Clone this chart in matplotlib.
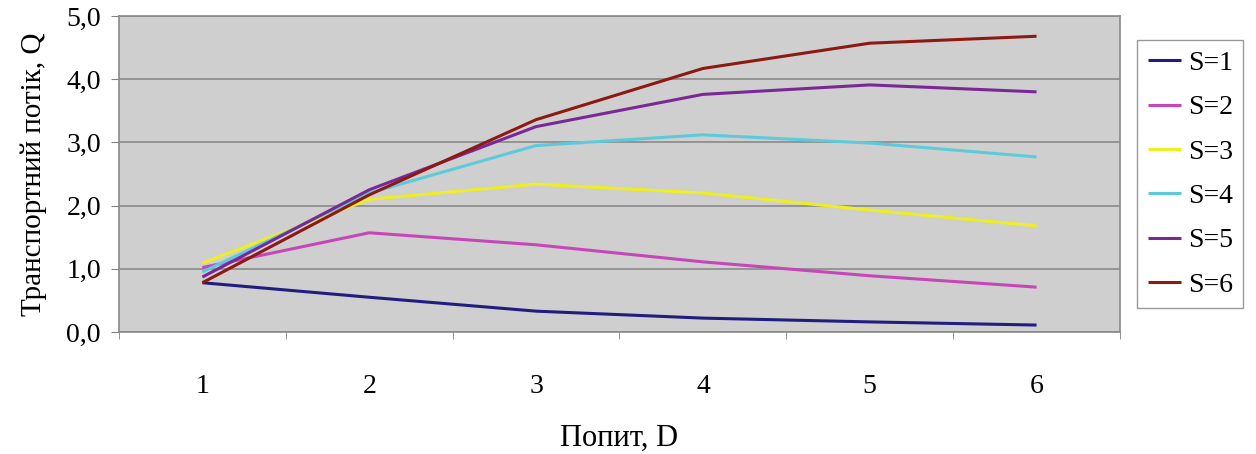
import numpy as np
import matplotlib.pyplot as plt
from matplotlib.ticker import FixedLocator, FuncFormatter

plt.rcParams['font.family'] = ['Liberation Serif', 'DejaVu Serif']

# Demand values (categories)
demand = [1, 2, 3, 4, 5, 6]
series_labels = ["S=1", "S=2", "S=3", "S=4", "S=5", "S=6"]

# Transport flow Q per supply level S
s1 = [0.78, 0.55, 0.33, 0.22, 0.16, 0.11]
s2 = [1.02, 1.57, 1.38, 1.11, 0.89, 0.71]
s3 = [1.09, 2.10, 2.34, 2.20, 1.93, 1.68]
s4 = [0.95, 2.20, 2.95, 3.12, 2.99, 2.77]
s5 = [0.87, 2.25, 3.25, 3.76, 3.91, 3.80]
s6 = [0.78, 2.17, 3.36, 4.17, 4.57, 4.68]
series = [s1, s2, s3, s4, s5, s6]

colors = ['#221C7E', '#C647B8', '#EEEE22', '#5DCADB', '#7A2896', '#8C1A12']

fig = plt.figure(figsize=(12.56, 4.54), dpi=100)
ax = fig.add_axes([0.0947, 0.2687, 0.797, 0.696])
ax.set_facecolor('#CFCFCF')

for vals, lab, c in zip(series, series_labels, colors):
    ax.plot(demand, vals, color=c, lw=2.2, label=lab, solid_capstyle='butt')

ax.set_xlim(0.5, 6.5)
ax.set_ylim(0, 5)
ax.set_xticks(demand)
ax.set_xticklabels([str(d) for d in demand])
ax.xaxis.set_minor_locator(FixedLocator(np.arange(0.5, 7, 1)))
ax.tick_params(axis='x', which='major', length=0, pad=30, labelsize=20)
ax.tick_params(axis='x', which='minor', length=5, color='#808080')
ax.set_yticks(np.arange(0, 5.01, 1))
ax.yaxis.set_major_formatter(FuncFormatter(lambda v, p: f"{v:.1f}".replace('.', ',')))
ax.tick_params(axis='y', length=6, color='#808080', pad=7, labelsize=20)
ax.grid(axis='y', color='#8A8A8A', lw=1.2)
ax.set_axisbelow(True)
for sp in ax.spines.values():
    sp.set_color('#8A8A8A')
    sp.set_linewidth(1.2)

ax.set_xlabel("Попит, D", fontsize=22, labelpad=18)
ax.set_ylabel("Транспортний потік, Q", fontsize=21, labelpad=14)

leg = ax.legend(loc='upper left', bbox_to_anchor=(1.017, 0.924), frameon=True,
                fancybox=False, edgecolor='#808080', fontsize=20,
                handlelength=1.2, handletextpad=0.25, labelspacing=0.68,
                borderpad=0.38, borderaxespad=0)
leg.get_frame().set_linewidth(1.0)

fig.savefig("out.png", dpi=100)
